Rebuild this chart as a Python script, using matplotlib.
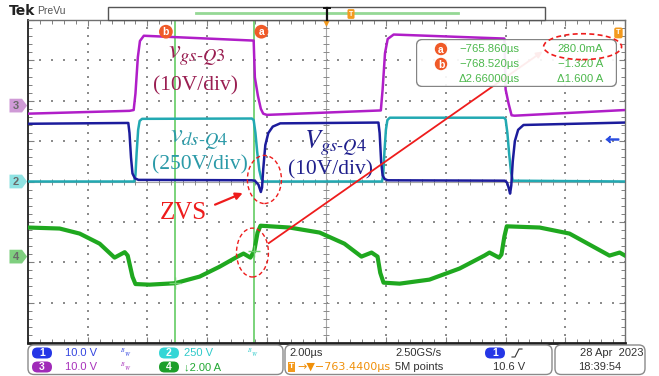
import numpy as np
import matplotlib.pyplot as plt
import matplotlib.transforms as mtransforms
from matplotlib.patches import Ellipse, FancyBboxPatch, Polygon, Circle, Rectangle

plt.rcParams['mathtext.fontset'] = 'stix'
plt.rcParams['font.family'] = ['Liberation Sans', 'DejaVu Sans']

W, H = 659, 376

# vertical scale per division and ground position (divisions from centre)
ch_scale = {1: 10.0, 2: 250.0, 3: 10.0, 4: 2.0}
ch_offset = {1: 0.0, 2: 0.0, 3: 1.88, 4: -1.86}
ch_color = {1: '#1c1c9c', 2: '#22a9b2', 3: '#b01ec8', 4: '#1fa81f'}

# horizontal: 2 us/div, centre of screen at the trigger position
t_div = 2.0
t_center = -763.44
cursor_a_abs, cursor_b_abs = -765.860, -768.520
cursor_a = cursor_a_abs - t_center
cursor_b = cursor_b_abs - t_center
cursor_a_val, cursor_b_val = 0.280, -1.320
trig_level = 10.6

# ch1: Vgs-Q4 (V)
t1 = [-10.0, -6.64, -6.60, -6.55, -6.50, -6.42, -6.30, -2.50, -2.40, -2.28, -2.20,
      -2.16, -2.12, -2.05, -1.95, -1.80, -1.55, 1.74, 1.78, 1.83, 1.88, 1.95, 2.05,
      5.98, 6.05, 6.10, 6.15, 6.19, 6.24, 6.31, 6.42, 6.60, 10.0]
v1 = [14.3, 14.5, 12.0, 6.0, 2.0, 0.8, 0.4, 0.3, 0.2, -0.8, -2.6,
      -1.5, 3.0, 9.0, 12.0, 13.6, 14.4, 14.6, 12.0, 5.0, 1.5, 0.6, 0.3,
      0.2, -0.3, -1.5, -3.0, -1.0, 5.0, 10.0, 12.8, 14.0, 14.6]

# ch2: vds-Q4 (V)
t2 = [-10.0, -6.44, -6.40, -6.36, -6.31, -6.26, -6.18, -2.50, -2.44, -2.38, -2.32,
      -2.25, -2.18, -2.10, 1.86, 1.90, 1.94, 1.99, 2.04, 2.12, 5.94, 6.00, 6.06,
      6.12, 6.18, 6.24, 10.0]
v2 = [0, 0, 40, 180, 320, 375, 388, 390, 380, 300, 180,
      70, 15, 0, 0, 40, 180, 320, 380, 395, 395, 385, 300,
      170, 60, 5, 0]

# ch3: vgs-Q3 (V)
t3 = [-10.0, -6.60, -6.46, -6.40, -6.32, -6.25, -6.12, -2.44, -2.40, -2.30, -2.20,
      -2.12, -2.00, 1.82, 1.88, 1.96, 2.05, 2.25, 5.96, 6.00, 6.10, 6.20, 6.30, 10.0]
v3 = [-2.0, -1.3, -1.1, 3.0, 12.0, 16.0, 17.3, 16.1, 7.0, 2.5, -0.8,
      -2.0, -2.3, -1.2, 4.0, 13.0, 16.5, 17.6, 16.6, 4.0, 0.5, -2.4, -2.5, -1.1]

# ch4: resonant current (A)
t4 = [-10.0, -8.94, -8.27, -7.60, -7.10, -6.76, -6.66, -6.50, -6.40, -5.93, cursor_b,
      -4.25, -3.58, -2.98, -2.78, -2.55, cursor_a, -2.31, -2.21, -1.24, -0.23, 0.60,
      1.17, 1.51, 1.71, 1.80, 1.91, 2.45, 3.45, 4.46, 5.29, 5.46, 5.78, 5.86, 5.96,
      6.04, 7.14, 8.14, 9.48, 9.82, 10.0]
i4 = [1.44, 1.39, 1.14, 0.64, -0.05, 0.22, 0.05, -1.00, -1.36, -1.39, cursor_b_val,
      -0.99, -0.50, 0.00, 0.15, -0.05, cursor_a_val, 1.19, 1.53, 1.44, 1.19, 0.64,
      0.00, 0.20, 0.00, -0.80, -1.29, -1.34, -1.14, -0.59, 0.05, 0.20, -0.05, 0.10, 1.00,
      1.50, 1.44, 1.14, 0.05, 0.20, 0.05]


def to_div(ch, vals):
    return ch_offset[ch] + np.asarray(vals, dtype=float) / ch_scale[ch]


fig = plt.figure(figsize=(W / 100, H / 100), dpi=100)
fig.patch.set_facecolor('white')

# graticule area
ax = fig.add_axes([28 / W, 1 - 343 / H, 597 / W, 323 / H])
ax.set_xlim(-5 * t_div, 5 * t_div)
ax.set_ylim(-4, 4)
ax.set_xticks(np.arange(-10, 10.01, 2))
ax.set_yticks(np.arange(-4, 4.01, 1))
ax.set_xticks(np.arange(-10, 10.01, 0.4), minor=True)
ax.set_yticks(np.arange(-4, 4.01, 0.2), minor=True)
ax.tick_params(which='both', direction='in', top=True, right=True,
               labelbottom=False, labelleft=False, color='#808080')
ax.tick_params(which='major', length=4, width=0.8)
ax.tick_params(which='minor', length=3, width=0.7)
for s in ax.spines.values():
    s.set_color('#707070')
    s.set_linewidth(1.0)
ax.spines['left'].set_color('#202020')
ax.spines['left'].set_linewidth(1.3)
ax.spines['bottom'].set_color('#202020')
ax.spines['bottom'].set_linewidth(2.0)

# dotted graticule lines, one dot per minor step
xmin = np.arange(-10, 10.01, 0.4)
ymin = np.arange(-4, 4.01, 0.2)
for xv in range(-8, 10, 2):
    if xv != 0:
        ax.scatter(np.full_like(ymin, xv), ymin, s=2.2, marker='s', lw=0,
                   color='#8c8c8c', zorder=1)
for yv in range(-3, 4):
    if yv != 0:
        ax.scatter(xmin, np.full_like(xmin, yv), s=2.2, marker='s', lw=0,
                   color='#8c8c8c', zorder=1)
# centre cross with fine ticks
ax.axvline(0, color='#a8a8a8', lw=0.8, zorder=1)
ax.axhline(0, color='#a8a8a8', lw=0.8, zorder=1)
ax.plot(np.zeros_like(ymin), ymin, ls='none', marker='_', ms=4, mew=0.7,
        color='#8a8a8a', zorder=1)
ax.plot(xmin, np.zeros_like(xmin), ls='none', marker='|', ms=4, mew=0.7,
        color='#8a8a8a', zorder=1)

# cursors
for tc in (cursor_a, cursor_b):
    ax.axvline(tc, color='#6fd06f', lw=1.3, zorder=2)

# traces
ax.plot(t2, to_div(2, v2), color=ch_color[2], lw=1.8, zorder=3)
ax.plot(t1, to_div(1, v1), color=ch_color[1], lw=1.8, zorder=4)
ax.plot(t3, to_div(3, v3), color=ch_color[3], lw=1.8, zorder=4)
ax.plot(t4, to_div(4, i4), color=ch_color[4], lw=3.0, zorder=4)
ax.plot([cursor_a, cursor_b], to_div(4, [cursor_a_val, cursor_b_val]), ls='none',
        marker='+', ms=8, mew=1.0, color='#6fd06f', zorder=5)

# cursor tags
for tc, lab, dx in ((cursor_b, 'b', -0.30), (cursor_a, 'a', 0.24)):
    ax.text(tc + dx, 3.71, lab, ha='center', va='center', color='white',
            fontsize=7.5, fontweight='bold', zorder=6,
            bbox=dict(boxstyle='circle,pad=0.18', fc='#f05a28', ec='none'))

# trigger markers
ax.plot(0, 4, marker='v', ms=7, color='#f39a1e', clip_on=False, zorder=6)
ax.plot(9.55, to_div(1, trig_level), marker=r'$\leftarrow$', ms=9, color='#2a4de0',
        zorder=6)
ax.text(9.78, 3.68, 'T', ha='center', va='center', fontsize=5.5, color='white',
        fontweight='bold', zorder=6,
        bbox=dict(boxstyle='round,pad=0.25', fc='#f39a1e', ec='none'))

# channel ground markers on the left edge
edge = mtransforms.blended_transform_factory(ax.transAxes, ax.transData)
mark_fc = {2: '#8fe3e3', 3: '#cf9ad6', 4: '#7fcf7f'}
for ch in (3, 2, 4):
    y0 = ch_offset[ch]
    h = 0.17
    poly = Polygon([(-0.031, y0 - h), (-0.010, y0 - h), (-0.0015, y0),
                    (-0.010, y0 + h), (-0.031, y0 + h)], closed=True,
                   fc=mark_fc[ch], ec='none', transform=edge, clip_on=False)
    ax.add_patch(poly)
    ax.text(-0.020, y0, str(ch), transform=edge, ha='center', va='center',
            fontsize=8, color='#6a6a6a', fontweight='bold', clip_on=False)

# signal labels
serif = 'Liberation Serif'
q3_col, q4d_col, q4g_col = '#9a1f52', '#2b9aa8', '#1f1f8c'
ax.text(-4.36, 3.12, r'$v_{gs\text{-}Q3}$', color=q3_col, fontsize=19,
        ha='center', va='center', zorder=6)
ax.text(-4.39, 2.38, '(10V/div)', color=q3_col, fontsize=15.5, family=serif,
        ha='center', va='center', zorder=6)
ax.text(-4.25, 1.01, r'$v_{ds\text{-}Q4}$', color=q4d_col, fontsize=19,
        ha='center', va='center', zorder=6)
ax.text(-4.25, 0.42, '(250V/div)', color=q4d_col, fontsize=15.5, family=serif,
        ha='center', va='center', zorder=6)
ax.text(0.30, 0.95, r'$V_{gs\text{-}Q4}$', color=q4g_col, fontsize=19,
        ha='center', va='center', zorder=6)
ax.text(0.13, 0.30, '(10V/div)', color=q4g_col, fontsize=15.5, family=serif,
        ha='center', va='center', zorder=6)

# ZVS callouts
red = '#ee1c1c'
ax.text(-4.79, -0.77, 'ZVS', color=red, fontsize=18, family=serif,
        ha='center', va='center', zorder=6)
ax.annotate('', xy=(-2.72, -0.26), xytext=(-3.82, -0.60),
            arrowprops=dict(arrowstyle='-|>', color=red, lw=1.6, mutation_scale=10),
            zorder=6)
ax.add_patch(Ellipse((-2.08, 0.05), 1.14, 1.19, fill=False, ec=red, lw=1.0,
                     ls=(0, (3, 2)), zorder=6))
ax.add_patch(Ellipse((-2.48, -1.76), 1.07, 1.21, fill=False, ec=red, lw=1.0,
                     ls=(0, (3, 2)), zorder=6))
ax.add_patch(Ellipse((8.58, 3.34), 2.61, 0.64, fill=False, ec=red, lw=1.2,
                     ls=(0, (3, 2)), zorder=8, clip_on=False))
ax.annotate('', xy=(7.24, 3.22), xytext=(-1.94, -1.53),
            arrowprops=dict(arrowstyle='-|>', color=red, lw=1.3, mutation_scale=9,
                            shrinkA=0, shrinkB=0),
            zorder=6)

# cursor readout panel
rd = ax.inset_axes([(416 - 28) / 597, (343 - 87) / 323, 201 / 597, 48 / 323])
rd.set_xlim(416, 617)
rd.set_ylim(87, 39)
rd.axis('off')
rd.set_zorder(7)
rd.add_patch(FancyBboxPatch((416.5, 39.5), 200, 47, boxstyle='round,pad=0,rounding_size=6',
                            fc='white', ec='#7a7a7a', lw=1.0, alpha=0.92))
green_txt = '#4cb84c'
rows = [('a', '\u2212765.860\u00b5s', '280.0mA', 49),
        ('b', '\u2212768.520\u00b5s', '\u22121.320 A', 64),
        ('', '\u03942.66000\u00b5s', '\u03941.600 A', 79)]
for tag, left, right, yy in rows:
    if tag:
        rd.add_patch(Circle((441, yy), 6.2, fc='#f05a28', ec='none'))
        rd.text(441, yy + 0.5, tag, ha='center', va='center', color='white',
                fontsize=7.5, fontweight='bold')
    rd.text(459, yy, left, ha='left', va='center', color=green_txt, fontsize=8.2)
    rd.text(603, yy, right, ha='right', va='center', color=green_txt, fontsize=8.2)

# header and status bar in pixel coordinates
ov = fig.add_axes([0, 0, 1, 1])
ov.set_xlim(0, W)
ov.set_ylim(H, 0)
ov.axis('off')

ov.text(9, 11, 'Tek', fontsize=10, fontweight='bold', color='#222222',
        ha='left', va='center', family='DejaVu Sans')
ov.text(37, 11, 'PreVu', fontsize=7.5, color='#555555', ha='left', va='center')
ov.add_patch(Rectangle((108, 7), 437, 12.5, fc='white', ec='#555555', lw=1.0))
ov.plot([196, 458], [13, 13], color='#95d895', lw=2.0)
ov.plot([327, 327], [8, 19.5], color='#111111', lw=1.6)
ov.plot([324, 330], [8, 8], color='#111111', lw=1.4)
ov.text(351, 14, 'T', fontsize=5, color='white', ha='center', va='center',
        fontweight='bold',
        bbox=dict(boxstyle='round,pad=0.2', fc='#f39a1e', ec='none'))

dark = '#333333'
ov.add_patch(FancyBboxPatch((28, 345), 255, 29.5, boxstyle='round,pad=0,rounding_size=6',
                            fc='white', ec='#8a8a8a', lw=1.0))
ov.add_patch(FancyBboxPatch((285, 345), 267, 29.5, boxstyle='round,pad=0,rounding_size=6',
                            fc='white', ec='#8a8a8a', lw=1.0))
ov.add_patch(FancyBboxPatch((555, 345), 90, 29.5, boxstyle='round,pad=0,rounding_size=6',
                            fc='white', ec='#8a8a8a', lw=1.0))

chan_rows = [(1, 42, 353, '10.0 V', '#3546e0', '#2536e6', True),
             (2, 169, 353, '250 V', '#2fcaca', '#35d6d6', True),
             (3, 42, 367, '10.0 V', '#a832bb', '#a02ab8', True),
             (4, 169, 367, '\u21932.00 A', '#22a833', '#1d9e2a', False)]
for ch, cx, cy, txt, tcol, ocol, bw in chan_rows:
    ov.add_patch(FancyBboxPatch((cx - 10, cy - 5.5), 20, 11,
                                boxstyle='round,pad=0,rounding_size=5.5',
                                fc=ocol, ec='none'))
    ov.text(cx, cy + 0.3, str(ch), color='white', fontsize=7.5, fontweight='bold',
            ha='center', va='center')
    ov.text(cx + (23 if ch in (1, 3) else 15), cy, txt, color=tcol, fontsize=8,
            ha='left', va='center')
    if bw:
        ov.text(cx + 84, cy, r'$^{B}{_W}$', color=tcol, fontsize=6,
                ha='center', va='center')

ov.text(289, 353, '2.00\u00b5s', color=dark, fontsize=8, ha='left', va='center')
ov.text(289, 367, 'T', color='white', fontsize=6, fontweight='bold', ha='left',
        va='center', bbox=dict(boxstyle='square,pad=0.15', fc='#f39a1e', ec='none'))
ov.text(297, 367, '\u2192\u25bc\u2212763.4400\u00b5s', color='#f0900a', fontsize=8,
        ha='left', va='center', family=['DejaVu Sans'])
ov.text(395, 353, '2.50GS/s', color=dark, fontsize=8, ha='left', va='center')
ov.text(395, 367, '5M points', color=dark, fontsize=8, ha='left', va='center')
ov.add_patch(FancyBboxPatch((485, 347.5), 20, 11, boxstyle='round,pad=0,rounding_size=5.5',
                            fc='#2536e6', ec='none'))
ov.text(495, 353.3, '1', color='white', fontsize=7.5, fontweight='bold',
        ha='center', va='center')
ov.plot([512, 515, 519, 522], [357, 357, 349, 349], color=dark, lw=0.8)
ov.text(493, 367, '10.6 V', color=dark, fontsize=8, ha='left', va='center')
ov.text(643, 353, '28 Apr  2023', color=dark, fontsize=8, ha='right', va='center')
ov.text(578, 367, '18:39:54', color=dark, fontsize=8, ha='left', va='center')

fig.savefig('out.png', dpi=100)
